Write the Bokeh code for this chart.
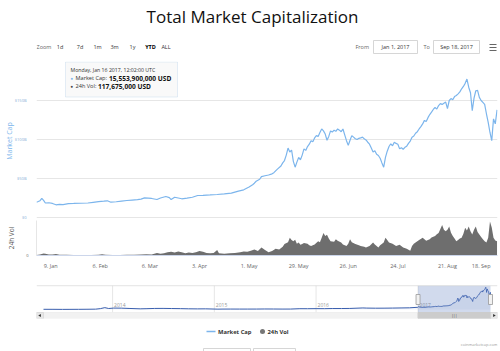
import datetime as dt
from math import pi
from bokeh.plotting import figure
from bokeh.layouts import column
from bokeh.models import Range1d, FixedTicker, Label, BoxAnnotation, Span
from bokeh.core.properties import value
from bokeh.embed import file_html
from bokeh.resources import INLINE

FONT = "Open Sans"

# ---------------- data ----------------
mcap_dates = [
    "01-01", "01-02", "01-03", "01-04", "01-05", "01-06", "01-08", "01-10", "01-12", "01-14",
    "01-16", "01-19", "01-22", "01-26", "01-30",
    "02-02", "02-05", "02-08", "02-10", "02-12", "02-15", "02-18", "02-21", "02-24", "02-27",
    "03-01", "03-03", "03-05", "03-07", "03-10", "03-12", "03-15", "03-17", "03-18", "03-20",
    "03-22", "03-24", "03-27", "03-30",
    "04-02", "04-05", "04-09", "04-13", "04-17", "04-21", "04-25", "04-28",
    "05-01", "05-03", "05-04", "05-05", "05-07", "05-08", "05-10", "05-12", "05-14", "05-15",
    "05-17", "05-19", "05-20", "05-21", "05-22", "05-23", "05-24", "05-25", "05-26", "05-27",
    "05-28", "05-29", "05-30", "05-31",
    "06-01", "06-02", "06-03", "06-04", "06-05", "06-06", "06-07", "06-08", "06-09", "06-10",
    "06-11", "06-12", "06-13", "06-14", "06-15", "06-16", "06-17", "06-18", "06-19", "06-20",
    "06-21", "06-22", "06-23", "06-24", "06-25", "06-26", "06-27", "06-28", "06-29", "06-30",
    "07-01", "07-02", "07-03", "07-04", "07-05", "07-06", "07-07", "07-08", "07-09", "07-10",
    "07-11", "07-12", "07-13", "07-14", "07-15", "07-16", "07-17", "07-18", "07-19", "07-20",
    "07-21", "07-22", "07-23", "07-24", "07-25", "07-26", "07-27", "07-28", "07-29", "07-30", "07-31",
    "08-01", "08-02", "08-03", "08-04", "08-05", "08-06", "08-07", "08-08", "08-09", "08-10",
    "08-11", "08-12", "08-13", "08-14", "08-15", "08-16", "08-17", "08-18", "08-19", "08-20",
    "08-21", "08-22", "08-23", "08-24", "08-25", "08-26", "08-27", "08-28", "08-29", "08-30", "08-31",
    "09-01", "09-02", "09-03", "09-04", "09-05", "09-06", "09-07", "09-08", "09-09", "09-10",
    "09-11", "09-12", "09-13", "09-14", "09-15", "09-16", "09-17", "09-18",
]
mcap_values = [  # billions USD
    19.6, 20.5, 21.5, 24.5, 22.0, 18.6, 18.9, 18.0, 16.3, 16.8,
    16.6, 17.8, 18.0, 18.3, 18.6,
    19.5, 20.3, 20.9, 21.4, 19.6, 20.2, 21.0, 21.8, 22.4, 23.0,
    23.6, 25.2, 24.8, 24.4, 23.1, 25.0, 26.9, 25.4, 23.0, 26.0,
    25.0, 24.0, 24.8, 26.0,
    28.2, 28.4, 28.9, 29.5, 30.2, 31.2, 33.8, 35.5,
    39.0, 42.0, 44.0, 46.5, 49.0, 52.5, 53.5, 54.5, 56.0, 57.5,
    62.0, 66.0, 70.0, 73.0, 80.0, 89.0, 84.0, 86.5, 72.0, 64.5,
    71.0, 77.0, 74.0, 80.0,
    88.0, 86.0, 91.0, 94.0, 98.5, 97.0, 102.0, 105.0, 104.0, 109.0,
    113.5, 111.0, 107.0, 99.0, 104.0, 111.0, 109.5, 112.0, 110.5, 113.5,
    112.0, 110.0, 113.5, 106.0, 98.5, 92.5, 99.0, 105.0, 103.0, 101.0,
    100.0, 101.5, 102.0, 103.0, 101.0, 99.5, 96.5, 94.0, 89.0, 84.0,
    85.5, 81.0, 79.5, 76.0, 70.0, 64.5, 77.0, 85.0, 91.0, 94.5,
    92.0, 96.5, 95.0, 94.0, 88.0, 89.5, 87.5, 90.0, 91.5, 95.0, 98.0,
    103.0, 104.5, 108.0, 110.0, 113.5, 116.5, 120.0, 124.5, 123.0, 128.0,
    132.0, 135.0, 138.5, 141.0, 139.0, 143.5, 146.0, 145.0, 146.5, 148.0,
    139.5, 150.0, 152.5, 151.0, 155.0, 156.5, 158.5, 161.0, 165.0, 168.0, 172.0,
    177.5, 167.0, 160.0, 137.0, 153.0, 162.5, 163.0, 154.0, 150.0, 147.5,
    145.0, 133.0, 122.0, 109.0, 98.5, 126.5, 120.0, 138.0,
]

vol_dates = [
    "01-01", "01-03", "01-05", "01-06", "01-08", "01-10", "01-12", "01-14", "01-18", "01-22", "01-27",
    "02-01", "02-05", "02-07", "02-09", "02-13", "02-17", "02-21", "02-25",
    "03-01", "03-04", "03-07", "03-10", "03-12", "03-14", "03-16", "03-18", "03-20", "03-22",
    "03-24", "03-26", "03-28", "03-30",
    "04-01", "04-03", "04-05", "04-07", "04-09", "04-11", "04-13", "04-14", "04-17", "04-20",
    "04-23", "04-26", "04-28", "04-30",
    "05-02", "05-04", "05-06", "05-08", "05-10", "05-12", "05-14", "05-16", "05-18", "05-20",
    "05-21", "05-23", "05-24", "05-25", "05-26", "05-27", "05-28", "05-29", "05-30", "05-31",
    "06-01", "06-03", "06-04", "06-05", "06-07", "06-09", "06-10", "06-11", "06-12", "06-13",
    "06-14", "06-15", "06-16", "06-18", "06-19", "06-20", "06-22", "06-23", "06-25", "06-26",
    "06-27", "06-28", "06-30",
    "07-02", "07-03", "07-05", "07-06", "07-08", "07-10", "07-11", "07-13", "07-14", "07-16",
    "07-17", "07-18", "07-19", "07-21", "07-23", "07-25", "07-27", "07-29", "07-31",
    "08-01", "08-02", "08-04", "08-05", "08-07", "08-09", "08-11", "08-12", "08-14", "08-15",
    "08-16", "08-17", "08-18", "08-19", "08-20", "08-21", "08-22", "08-23", "08-24", "08-25",
    "08-26", "08-27", "08-28", "08-29", "08-30", "08-31",
    "09-01", "09-02", "09-03", "09-04", "09-05", "09-06", "09-07", "09-08", "09-09", "09-10",
    "09-11", "09-12", "09-13", "09-14", "09-15", "09-16", "09-17", "09-18",
]
vol_values = [  # billions USD
    0.15, 0.3, 0.55, 0.45, 0.3, 0.25, 0.4, 0.2, 0.18, 0.14, 0.13,
    0.15, 0.18, 0.35, 0.2, 0.15, 0.16, 0.2, 0.22,
    0.25, 0.35, 0.3, 0.7, 0.5, 0.6, 0.9, 1.0, 0.8, 1.1,
    0.9, 0.6, 0.8, 0.7,
    0.9, 1.2, 1.0, 0.7, 0.6, 0.7, 1.5, 0.6, 0.5, 0.6,
    0.7, 0.9, 1.1, 1.0,
    1.3, 1.6, 1.2, 2.2, 1.5, 0.9, 1.2, 1.8, 1.6, 2.4,
    3.1, 3.6, 4.8, 4.2, 3.9, 4.3, 3.2, 3.5, 2.9, 3.1,
    3.4, 3.2, 2.8, 2.6, 3.0, 3.9, 3.6, 4.8, 6.1, 5.3,
    5.6, 4.6, 3.9, 3.7, 4.4, 4.0, 3.5, 3.0, 2.6, 3.2,
    4.4, 3.6, 3.1,
    2.8, 2.6, 2.4, 2.2, 2.6, 3.5, 3.0, 2.2, 2.8, 3.5,
    4.8, 4.2, 3.5, 3.2, 2.6, 2.9, 2.2, 1.8, 1.3,
    2.6, 3.2, 3.9, 4.2, 4.8, 4.0, 4.4, 4.9, 5.3, 5.8,
    6.1, 7.2, 8.3, 7.0, 6.6, 7.0, 7.9, 6.2, 5.3, 4.6,
    3.9, 4.2, 4.6, 4.8, 5.9, 7.5,
    6.8, 7.9, 6.6, 5.7, 7.0, 7.9, 6.4, 5.7, 5.0, 4.4,
    3.9, 3.5, 4.8, 9.2, 7.6, 4.8, 4.1, 3.9,
]

hist_dates = [
    "2013-04-28", "2013-06-01", "2013-07-05", "2013-08-01", "2013-09-01", "2013-10-01",
    "2013-11-01", "2013-11-18", "2013-12-04", "2013-12-18", "2014-01-05", "2014-02-01",
    "2014-03-01", "2014-04-10", "2014-05-01", "2014-06-01", "2014-07-01", "2014-08-01",
    "2014-09-01", "2014-10-01", "2014-11-01", "2014-12-01", "2015-01-14", "2015-02-01",
    "2015-03-01", "2015-04-01", "2015-05-01", "2015-06-01", "2015-07-01", "2015-08-01",
    "2015-09-01", "2015-10-01", "2015-11-04", "2015-12-01", "2016-01-01", "2016-02-01",
    "2016-03-01", "2016-04-01", "2016-05-01", "2016-06-17", "2016-07-01", "2016-08-01",
    "2016-09-01", "2016-10-01", "2016-11-01", "2016-12-01", "2016-12-31",
]
hist_values = [
    1.6, 1.4, 0.9, 1.2, 1.5, 2.0, 2.8, 7.0, 15.0, 8.0, 11.5, 11.0,
    8.5, 5.5, 6.5, 8.5, 8.8, 7.8, 6.9, 5.6, 4.9, 5.3, 2.8, 3.4,
    3.6, 3.5, 3.5, 3.6, 4.2, 3.9, 3.5, 3.6, 6.5, 6.3, 6.9, 6.7,
    7.8, 7.8, 8.4, 12.5, 11.3, 10.5, 10.7, 11.5, 12.5, 13.5, 17.7,
]

x_tick_dates = ["2017-01-09", "2017-02-06", "2017-03-06", "2017-04-03", "2017-05-01",
                "2017-05-29", "2017-06-26", "2017-07-24", "2017-08-21", "2017-09-18"]
y_ticks = [0, 50, 100, 150, 200]
y_tick_labels = ["$0", "$50B", "$100B", "$150B", ""]
vol_ticks = [0]
vol_tick_labels = ["0"]
nav_years = ["2014", "2015", "2016", "2017"]
range_buttons = ["1d", "7d", "1m", "3m", "1y", "YTD", "ALL"]

# ---------------- helpers ----------------
EPOCH = dt.datetime(1970, 1, 1)
NBSP = "\u00a0"


def D(s):
    return dt.datetime.strptime(s, "%Y-%m-%d")


def ms(d):
    return (d - EPOCH).total_seconds() * 1000.0


mx = [D("2017-" + s) for s in mcap_dates]
vx = [D("2017-" + s) for s in vol_dates]
hx = [D(s) for s in hist_dates]

LINE_C = "#7cb5ec"
VOL_C = "#6e6e6e"
BL, BR = 36, 3          # left / right borders shared by every panel


def bare(p):
    p.outline_line_color = None
    p.xgrid.grid_line_color = None
    p.ygrid.grid_line_color = None
    p.background_fill_color = "white"
    p.border_fill_color = "white"


def plain_axis(ax):
    ax.major_tick_line_color = None
    ax.major_tick_out = 0
    ax.major_tick_in = 0
    ax.minor_tick_line_color = None
    ax.minor_tick_out = 0
    ax.minor_tick_in = 0


# ---------------- header ----------------
hdr = figure(width=500, height=61, x_range=Range1d(BL, 500 - BR), y_range=Range1d(61, 0),
             x_axis_location=None, y_axis_location=None, min_border=0,
             min_border_left=BL, min_border_right=BR,
             toolbar_location=None, output_backend="svg")
bare(hdr)
hdr.text(x=[252], y=[16], text=["Total Market Capitalization"], text_align="center",
         text_baseline="middle", text_font=value(FONT), text_font_size="17px", text_color="#111111")
hdr.text(x=[36], y=[46.5], text=["Zoom"], text_baseline="middle", text_font=value(FONT),
         text_font_size="5.5px", text_color="#666666")
btn_x = [59.5, 79.5, 97, 114, 132, 150, 165.5]
normal = [i for i, b in enumerate(range_buttons) if b != "YTD"]
hdr.text(x=[btn_x[i] for i in normal], y=[46.5] * len(normal), text=[range_buttons[i] for i in normal],
         text_align="center", text_baseline="middle", text_font=value(FONT),
         text_font_size="5.5px", text_color="#333333")
hdr.text(x=[150], y=[46.5], text=["YTD"], text_align="center", text_baseline="middle",
         text_font=value(FONT), text_font_size="5.5px", text_font_style="bold", text_color="#000000")
hdr.quad(left=[373, 433], right=[417, 479], top=[40, 40], bottom=[53, 53],
         fill_color="white", line_color="#cccccc", line_width=0.8)
hdr.text(x=[355, 423], y=[46.5, 46.5], text=["From", "To"], text_baseline="middle",
         text_font=value(FONT), text_font_size="5.5px", text_color="#666666")
hdr.text(x=[395, 456], y=[46.5, 46.5], text=["Jan 1, 2017", "Sep 18, 2017"], text_align="center",
         text_baseline="middle", text_font=value(FONT), text_font_size="5.5px", text_color="#333333")
hdr.segment(x0=[489] * 3, x1=[496] * 3, y0=[44, 47, 50], y1=[44, 47, 50],
            line_color="#666666", line_width=1.2)

# ---------------- market cap panel ----------------
X0 = D("2017-01-01")
X1 = D("2017-09-18") + dt.timedelta(hours=6)
FT, F0, FB = 61, 217, 220           # top, zero line, bottom of the market-cap frame (page px)
PPB = (F0 - FT) / 200.0             # px per billion
YMIN, YMAX = -(FB - F0) / PPB, 200


def xd(px):
    return ms(X0) + (px - BL) / (500 - BR - BL) * (ms(X1) - ms(X0))


def yd(py):
    return YMAX - (py - FT) / PPB


main = figure(width=500, height=FB - FT, x_axis_type="datetime", x_range=Range1d(X0, X1),
              y_range=Range1d(YMIN, YMAX), x_axis_location=None,
              min_border_left=BL, min_border_right=BR, min_border_top=0, min_border_bottom=0,
              toolbar_location=None, output_backend="svg")
bare(main)
main.ygrid.ticker = FixedTicker(ticks=y_ticks)
main.ygrid.grid_line_color = "#e6e6e6"

ya = main.yaxis[0]
plain_axis(ya)
ya.ticker = FixedTicker(ticks=y_ticks)
ya.major_label_overrides = {t: l for t, l in zip(y_ticks, y_tick_labels)}
ya.axis_line_color = None
ya.major_label_standoff = 10
ya.major_label_text_font = FONT
ya.major_label_text_font_size = "4px"
ya.major_label_text_color = "#86acd6"
ya.axis_label = "Market Cap"
ya.axis_label_standoff = -2
ya.axis_label_text_font = FONT
ya.axis_label_text_font_size = "7px"
ya.axis_label_text_font_style = "normal"
ya.axis_label_text_color = "#7cb5ec"

main.line(mx, mcap_values, line_color=LINE_C, line_width=1.2)

# tooltip
main.add_layout(BoxAnnotation(left=xd(65), right=xd(177), top=yd(61.5), bottom=yd(96.5),
                              fill_color="#f9f9f9", fill_alpha=0.95, line_color="#a9c6e6",
                              line_width=1, level="overlay"))
tip_style = dict(text_baseline="middle", text_font=FONT, level="overlay")
main.add_layout(Label(x=xd(70), y=yd(69), text="Monday, Jan 16 2017, 12:02:00 UTC",
                      text_font_size="5.2px", text_color="#333333", **tip_style))
main.add_layout(Label(x=xd(70), y=yd(77.5), text="\u25cf", text_font_size="4.5px",
                      text_color=LINE_C, **tip_style))
main.add_layout(Label(x=xd(75), y=yd(77.5), text="Market Cap:", text_font_size="5.6px",
                      text_color="#333333", **tip_style))
main.add_layout(Label(x=xd(108.5), y=yd(77.5), text="15,553,900,000 USD", text_font_size="6.6px",
                      text_font_style="bold", text_color="#111111", **tip_style))
main.add_layout(Label(x=xd(70), y=yd(85.5), text="\u25cf", text_font_size="4.5px",
                      text_color="#444444", **tip_style))
main.add_layout(Label(x=xd(75), y=yd(85.5), text="24h Vol:", text_font_size="5.6px",
                      text_color="#333333", **tip_style))
main.add_layout(Label(x=xd(97.5), y=yd(85.5), text="117,675,000 USD", text_font_size="6.6px",
                      text_font_style="bold", text_color="#111111", **tip_style))

# ---------------- volume panel ----------------
VB = 255
vol = figure(width=500, height=VB - FB + 22, x_axis_type="datetime", x_range=main.x_range,
             y_range=Range1d(0, 9.5), min_border_left=BL, min_border_right=BR,
             min_border_top=0, min_border_bottom=22, toolbar_location=None, output_backend="svg")
bare(vol)
vya = vol.yaxis[0]
plain_axis(vya)
vya.ticker = FixedTicker(ticks=vol_ticks)
vya.major_label_overrides = {t: l for t, l in zip(vol_ticks, vol_tick_labels)}
vya.axis_line_color = "#e6e6e6"
vya.major_label_standoff = 8
vya.major_label_text_font = FONT
vya.major_label_text_font_size = "4px"
vya.major_label_text_color = "#666666"
vya.axis_label = "24h Vol"
vya.axis_label_standoff = 7
vya.axis_label_text_font = FONT
vya.axis_label_text_font_size = "6.5px"
vya.axis_label_text_font_style = "normal"
vya.axis_label_text_color = "#555555"

xa = vol.xaxis[0]
plain_axis(xa)
xt = [ms(D(s)) for s in x_tick_dates]
xa.ticker = FixedTicker(ticks=xt)
xlabels = {}
for t, s in zip(xt, x_tick_dates):
    d = D(s)
    xlabels[t] = f"{d.day}. {d.strftime('%b')}"
# keep the last label inside the page, as the original does
xlabels[xt[-1]] = xlabels[xt[-1]] + NBSP * 7
xa.major_label_overrides = xlabels
xa.axis_line_color = "#ccd6eb"
xa.major_label_standoff = 6
xa.major_label_text_font = FONT
xa.major_label_text_font_size = "5.5px"
xa.major_label_text_color = "#666666"

vol.varea(x=vx, y1=0, y2=vol_values, fill_color=VOL_C, fill_alpha=1)

# ---------------- navigator ----------------
NX0 = D("2013-04-28")
NX1 = D("2017-09-18")
pad = (NX1 - NX0) * (7 / 447)
NS, NE = NX0 - pad, NX1 + pad
nav = figure(width=500, height=43, x_axis_type="datetime", x_range=Range1d(NS, NE),
             y_range=Range1d(-72, 192), x_axis_location=None, y_axis_location=None,
             min_border_left=BL, min_border_right=BR, min_border_top=8, min_border_bottom=2,
             toolbar_location=None, output_backend="svg")
bare(nav)
yr_x = [D(y + "-01-01") for y in nav_years]
nav.segment(x0=yr_x, x1=yr_x, y0=[-24] * 4, y1=[192] * 4, line_color="#e6e6e6", line_width=1)
nav.text(x=yr_x, y=[40] * 4, text=nav_years, x_offset=1.5, text_baseline="middle",
         text_font=value(FONT), text_font_size="5px", text_color="#999999")
nav_x = hx + mx
nav_y = hist_values + mcap_values
nav.varea(x=nav_x, y1=0, y2=nav_y, fill_color="#335cad", fill_alpha=0.06)
nav.line(nav_x, nav_y, line_color="#3a5fae", line_width=1)
sel0 = D("2017-01-01")
nav.quad(left=[sel0], right=[NX1], bottom=[-24], top=[192], fill_color="#6685c2",
         fill_alpha=0.3, line_color=None)
nav.add_layout(Span(location=191, dimension="width", line_color="#cccccc", line_width=1))
# scrollbar
nav.quad(left=[NS], right=[NE], bottom=[-72], top=[-24], fill_color="#f2f2f2",
         line_color="#e6e6e6", line_width=0.5)
nav.quad(left=[sel0], right=[NX1], bottom=[-72], top=[-24], fill_color="#cccccc",
         line_color="#cccccc")
nav.quad(left=[NS, NX1], right=[NX0, NE], bottom=[-72, -72], top=[-24, -24],
         fill_color="#e6e6e6", line_color="#cccccc", line_width=0.5)
nav.scatter(x=[NS + (NX0 - NS) / 2, NX1 + (NE - NX1) / 2], y=[-48, -48], marker="triangle",
            angle=[pi / 2, -pi / 2], size=3, fill_color="#333333", line_color=None)
nav.text(x=[sel0 + (NX1 - sel0) / 2], y=[-48], text=["|||"], text_align="center",
         text_baseline="middle", text_font=value(FONT), text_font_size="3.5px", text_color="#333333")
nav.rect(x=[sel0, NX1], y=[80, 80], width=4, height=10, width_units="screen",
         height_units="screen", fill_color="#f2f2f2", line_color="#999999", line_width=0.8)

# ---------------- footer / legend ----------------
ftr = figure(width=500, height=31, x_range=Range1d(BL, 500 - BR), y_range=Range1d(351, 320),
             x_axis_location=None, y_axis_location=None, min_border=0,
             min_border_left=BL, min_border_right=BR,
             toolbar_location=None, output_backend="svg")
bare(ftr)
ftr.segment(x0=[206], x1=[215], y0=[331], y1=[331], line_color=LINE_C, line_width=1.5)
ftr.text(x=[217.5], y=[331], text=["Market Cap"], text_baseline="middle", text_font=value(FONT),
         text_font_size="5.8px", text_font_style="bold", text_color="#333333")
ftr.scatter(x=[262], y=[331], size=5, fill_color="#777777", line_color=None)
ftr.text(x=[267], y=[331], text=["24h Vol"], text_baseline="middle", text_font=value(FONT),
         text_font_size="5.8px", text_font_style="bold", text_color="#333333")
ftr.quad(left=[203, 253], right=[250, 295], top=[348, 348], bottom=[360, 360],
         fill_color="white", line_color="#cccccc", line_width=0.8)
ftr.text(x=[497], y=[344], text=["coinmarketcap.com"], text_align="right", text_baseline="middle",
         text_font=value(FONT), text_font_size="4px", text_color="#999999")

layout = column(hdr, main, vol, nav, ftr, spacing=0)
open("out.html", "w").write(file_html(layout, INLINE))
